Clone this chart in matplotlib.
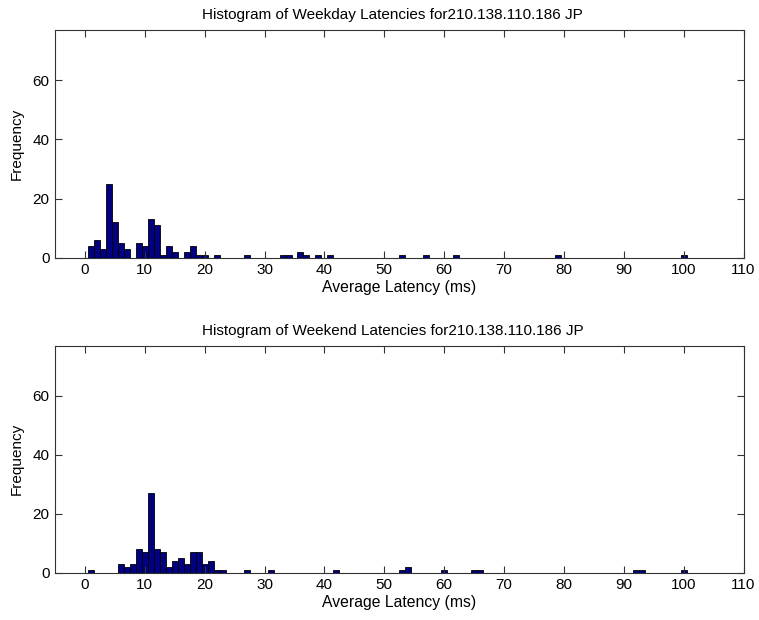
import matplotlib
matplotlib.use("Agg")
import matplotlib.pyplot as plt

plt.rcParams['font.family'] = ['Liberation Sans', 'DejaVu Sans']

# Weekday histogram (bin centre -> count)
weekday_bins = [1, 2, 3, 4, 5, 6, 7, 9, 10, 11, 12, 13, 14, 15, 17, 18, 19, 20, 22,
                27, 33, 34, 36, 37, 39, 41, 53, 57, 62, 79, 100]
weekday_counts = [4, 6, 3, 25, 12, 5, 3, 5, 4, 13, 11, 1, 4, 2, 2, 4, 1, 1, 1,
                  1, 1, 1, 2, 1, 1, 1, 1, 1, 1, 1, 1]

# Weekend histogram
weekend_bins = [1, 6, 7, 8, 9, 10, 11, 12, 13, 14, 15, 16, 17, 18, 19, 20, 21, 22, 23,
                27, 31, 42, 53, 54, 60, 65, 66, 92, 93, 100]
weekend_counts = [1, 3, 2, 3, 8, 7, 27, 8, 7, 2, 4, 5, 3, 7, 7, 3, 4, 1, 1,
                  1, 1, 1, 1, 2, 1, 1, 1, 1, 1, 1]

titles = ["Histogram of Weekday Latencies for210.138.110.186 JP",
          "Histogram of Weekend Latencies for210.138.110.186 JP"]
xticks = list(range(0, 111, 10))
yticks = [0, 20, 40, 60]

fig = plt.figure(figsize=(7.59, 6.2), dpi=100)
positions = [[0.0725, 0.5844, 0.9071, 0.3672],
             [0.0725, 0.0763, 0.9071, 0.3661]]
data = [(weekday_bins, weekday_counts), (weekend_bins, weekend_counts)]

for pos, (bins, counts), title in zip(positions, data, titles):
    ax = fig.add_axes(pos)
    ax.bar(bins, counts, width=1.0, color='#000080', edgecolor='black', linewidth=0.6)
    ax.set_xlim(-5, 110)
    ax.set_ylim(0, 77)
    ax.set_xticks(xticks)
    ax.set_yticks(yticks)
    ax.tick_params(direction='in', length=5, top=True, right=True, labelsize=11,
                   color='#333333', width=0.8, pad=4)
    for s in ax.spines.values():
        s.set_color('#333333')
        s.set_linewidth(0.8)
    ax.set_title(title, fontsize=11, pad=8, x=0.49)
    ax.set_xlabel("Average Latency (ms)", fontsize=11.3, labelpad=2)
    ax.set_ylabel("Frequency", fontsize=11, labelpad=6)

fig.savefig("out.png", dpi=100)
